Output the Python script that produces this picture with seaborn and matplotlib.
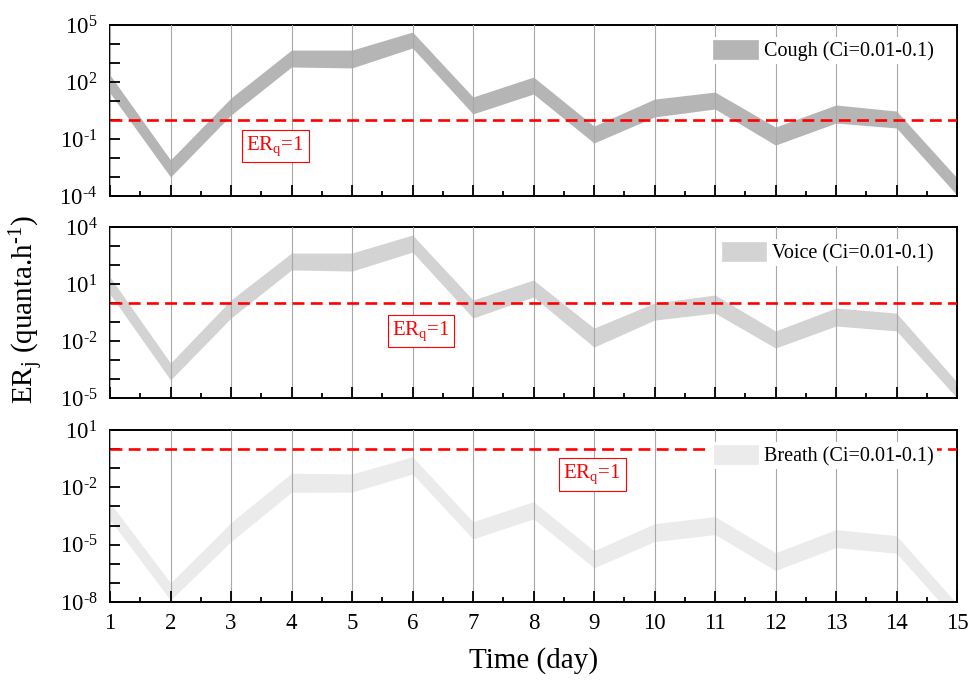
import numpy as np
import pandas as pd
import matplotlib
matplotlib.use("Agg")
import matplotlib.pyplot as plt
from matplotlib.patches import Patch
from matplotlib.ticker import FixedLocator, NullLocator
import seaborn as sns

# ---------------- data (log10 of ER) ----------------
days = list(range(1, 16))

cough_upper_log = [2.37, -2.10, 1.16, 3.68, 3.68, 4.63, 1.21, 2.26, -0.32, 1.10, 1.47, -0.37, 0.79, 0.47, -3.05]
cough_lower_log = [1.42, -3.00, 0.26, 2.79, 2.74, 3.79, 0.32, 1.37, -1.21, 0.16, 0.58, -1.32, -0.16, -0.42, -3.95]

voice_upper_log = [1.37, -3.16, 0.16, 2.63, 2.63, 3.58, 0.16, 1.21, -1.32, 0.00, 0.42, -1.47, -0.26, -0.53, -4.16]
voice_lower_log = [0.47, -4.05, -0.79, 1.74, 1.68, 2.68, -0.79, 0.32, -2.32, -0.90, -0.53, -2.37, -1.21, -1.47, -5.00]

breath_upper_log = [-2.80, -7.00, -3.84, -1.26, -1.30, -0.40, -3.80, -2.75, -5.32, -3.90, -3.53, -5.42, -4.21, -4.53, -8.10]
breath_lower_log = [-3.70, -7.90, -4.84, -2.26, -2.25, -1.30, -4.70, -3.65, -6.21, -4.84, -4.47, -6.35, -5.15, -5.45, -9.00]

series_labels = ["Cough (Ci=0.01-0.1)", "Voice (Ci=0.01-0.1)", "Breath (Ci=0.01-0.1)"]
y_exp_ranges = [(-4, 5), (-5, 4), (-8, 1)]
threshold = 1.0
erq_label = r"ER$_\mathregular{q}$=1"
erq_pos = [(3.73, 10 ** -1.37), (6.14, 10 ** -1.47), (8.97, 10 ** -1.32)]

x_label = "Time (day)"
y_label = r"ER$_\mathregular{j}$ (quanta.h$^{\text{-1}}$)"

band_colors = ["#b5b5b5", "#d3d3d3", "#ebebeb"]

# ---------------- style ----------------
sns.set_theme(style="ticks")
plt.rcParams["font.family"] = ["Liberation Serif", "DejaVu Serif"]
plt.rcParams["mathtext.fontset"] = "custom"
plt.rcParams["mathtext.rm"] = "Liberation Serif"
plt.rcParams["mathtext.it"] = "Liberation Serif:italic"
plt.rcParams["mathtext.default"] = "regular"
plt.rcParams["axes.unicode_minus"] = False
for key in ["text.color", "axes.labelcolor", "xtick.color", "ytick.color",
            "xtick.labelcolor", "ytick.labelcolor", "axes.edgecolor"]:
    plt.rcParams[key] = "black"

fig = plt.figure(figsize=(9.71, 6.81), dpi=100)
W, H = 971.0, 681.0
left, right = 110 / W, 957 / W
panel_px = [(25, 196), (227, 398), (430, 602)]
axes = []
for (t, b) in panel_px:
    axes.append(fig.add_axes([left, 1 - b / H, right - left, (b - t) / H]))

uppers = [cough_upper_log, voice_upper_log, breath_upper_log]
lowers = [cough_lower_log, voice_lower_log, breath_lower_log]


def exp_label(e):
    return r"10$^{\text{%d}}$" % e


for i, ax in enumerate(axes):
    ax.set_yscale("log")
    df = pd.DataFrame({
        "day": days + days,
        "ER": [10 ** v for v in uppers[i]] + [10 ** v for v in lowers[i]],
    })
    sns.lineplot(data=df, x="day", y="ER", estimator="mean", errorbar=("pi", 100),
                 color=band_colors[i], linewidth=0, ax=ax,
                 err_kws=dict(alpha=1, linewidth=0, facecolor=band_colors[i], zorder=1))
    lo, hi = y_exp_ranges[i]
    ax.set_ylim(10.0 ** lo, 10.0 ** hi)
    ax.set_xlim(1, 15)
    ax.axhline(threshold, color="#ff0000", lw=1.9, ls=(0, (4.5, 2.4)), zorder=3)

    # ticks
    exps = list(range(lo, hi + 1))
    ax.yaxis.set_major_locator(FixedLocator([10.0 ** e for e in exps]))
    ax.yaxis.set_minor_locator(NullLocator())
    ax.set_yticklabels([exp_label(e) if (e - lo) % 3 == 0 else "" for e in exps])
    ax.set_xticks(days)
    ax.set_xticks(np.arange(1.5, 15, 1.0), minor=True)
    ax.tick_params(axis="y", which="major", direction="in", length=7.5, width=1.3,
                   labelsize=16.5, pad=9, right=False, colors="black")
    ax.tick_params(axis="x", which="major", direction="in", length=8, width=1.3,
                   labelsize=16.5, pad=8, top=False, colors="black")
    ax.tick_params(axis="x", which="minor", direction="in", length=3.8, width=1.3,
                   top=False, colors="black")
    if i < 2:
        ax.tick_params(axis="x", labelbottom=False)
    for sp in ax.spines.values():
        sp.set_visible(True)
        sp.set_linewidth(1.4)
        sp.set_color("black")
    ax.set_axisbelow(False)
    ax.grid(axis="x", which="major", color="#a8a8a8", lw=0.8, zorder=2.5)
    ax.grid(axis="y", visible=False)
    ax.set_xlabel("")
    ax.set_ylabel("")

    # threshold annotation
    ax.text(erq_pos[i][0], erq_pos[i][1], erq_label, color="#ff0000", fontsize=15,
            ha="center", va="center", zorder=4,
            bbox=dict(boxstyle="square,pad=0.22", fc="white", ec="#ff0000", lw=0.8))

    # legend
    handle = Patch(facecolor=band_colors[i], edgecolor=band_colors[i], lw=0.5)
    leg = ax.legend([handle], [series_labels[i]], loc="upper right",
                    bbox_to_anchor=(0.976, 0.93), borderaxespad=0, frameon=True,
                    fontsize=14.5, handlelength=2.2, handleheight=1.05,
                    handletextpad=0.3, borderpad=0.15, fancybox=False,
                    labelcolor="black")
    leg.get_frame().set_facecolor("white")
    leg.get_frame().set_edgecolor("none")
    leg.get_frame().set_alpha(1)
    leg.set_zorder(5)

axes[2].set_xlabel(x_label, fontsize=21, labelpad=9, color="black")
fig.text(0.028, 0.545, y_label, rotation=90, fontsize=21, ha="center", va="center",
         color="black")

fig.savefig("out.png", dpi=100)
